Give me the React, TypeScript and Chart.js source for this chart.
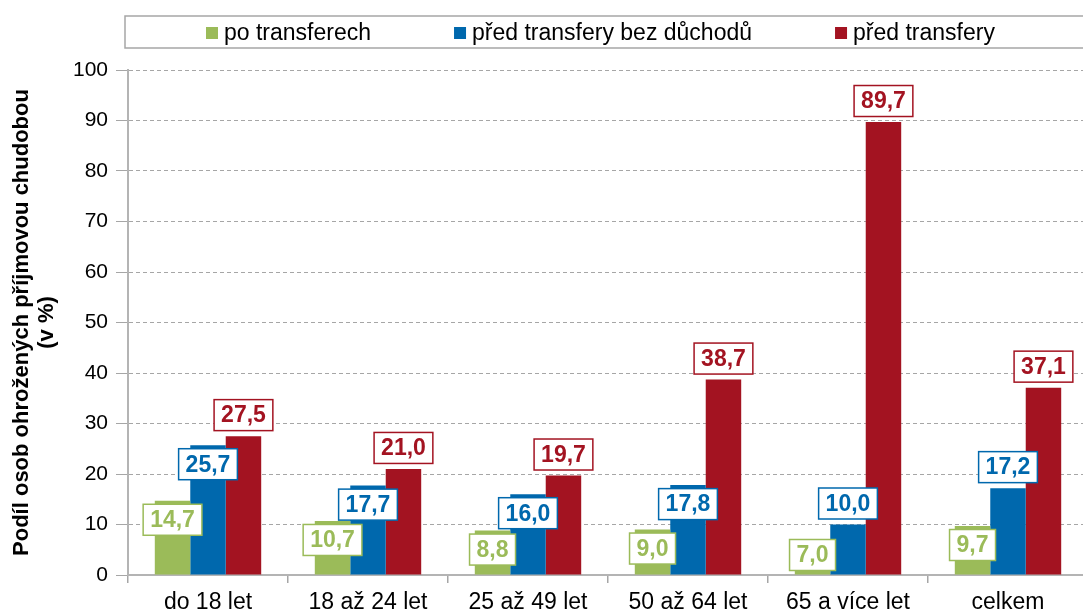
import React, { useEffect, useRef } from "react";
import { Chart, registerables } from "chart.js";

Chart.register(...registerables);

const categories = ["do 18 let", "18 až 24 let", "25 až 49 let", "50 až 64 let", "65 a více let", "celkem"];
const seriesNames = ["po transferech", "před transfery bez důchodů", "před transfery"];
const poTransferech = [14.7, 10.7, 8.8, 9.0, 7.0, 9.7];
const predTransferyBezDuchodu = [25.7, 17.7, 16.0, 17.8, 10.0, 17.2];
const predTransfery = [27.5, 21.0, 19.7, 38.7, 89.7, 37.1];
const yMin = 0;
const yMax = 100;
const yStep = 10;
const yTitle = ["Podíl osob ohrožených příjmovou chudobou", "(v %)"];

const COLORS = ["#9BBB59", "#0068AD", "#A31321"];
const FONT = "'Liberation Sans', Arial, Helvetica, sans-serif";

// label placement per series (style only)
const labelSide: string[][] = [
  ["below", "below", "below", "below", "below", "below"],
  ["below", "below", "below", "below", "above", "above"],
  ["above", "above", "above", "above", "above", "above"],
];

const fmt = (v: number) => v.toFixed(1).replace(".", ",");

const labelPlugin = {
  id: "boxLabels",
  afterDatasetsDraw(chart: any) {
    const ctx = chart.ctx;
    const base = chart.chartArea.bottom;
    ctx.save();
    ctx.font = `bold 23px ${FONT}`;
    ctx.textAlign = "center";
    ctx.textBaseline = "middle";
    chart.data.datasets.forEach((ds: any, di: number) => {
      const meta = chart.getDatasetMeta(di);
      meta.data.forEach((el: any, i: number) => {
        const txt = fmt(ds.data[i]);
        const w = ctx.measureText(txt).width + 14;
        const h = 31;
        let cy: number;
        if (labelSide[di][i] === "above") cy = el.y - 21;
        else cy = Math.min(el.y + 19, base - 20);
        const cx = el.x;
        ctx.fillStyle = "#ffffff";
        ctx.fillRect(cx - w / 2, cy - h / 2, w, h);
        ctx.lineWidth = 1.5;
        ctx.strokeStyle = COLORS[di];
        ctx.strokeRect(cx - w / 2, cy - h / 2, w, h);
        ctx.fillStyle = COLORS[di];
        ctx.fillText(txt, cx, cy + 1);
      });
    });
    ctx.restore();
  },
};

const legendPlugin = {
  id: "boxLegend",
  afterDraw(chart: any) {
    const ctx = chart.ctx;
    ctx.save();
    ctx.lineWidth = 1.5;
    ctx.strokeStyle = "#A6A6A6";
    ctx.strokeRect(125, 16, 1000, 32);
    ctx.font = `23px ${FONT}`;
    ctx.textBaseline = "middle";
    ctx.textAlign = "left";
    let x = 206;
    const cy = 33;
    chart.data.datasets.forEach((ds: any, di: number) => {
      ctx.fillStyle = COLORS[di];
      ctx.fillRect(x, cy - 6, 12, 12);
      x += 18;
      ctx.fillStyle = "#000000";
      ctx.fillText(ds.label, x, cy + 1);
      x += ctx.measureText(ds.label).width + 83;
    });
    ctx.restore();
  },
};

export default function App() {
  const ref = useRef<HTMLCanvasElement | null>(null);
  useEffect(() => {
    if (!ref.current) return;
    const seriesData = [poTransferech, predTransferyBezDuchodu, predTransfery];
    const chart = new Chart(ref.current, {
      type: "bar",
      data: {
        labels: categories,
        datasets: seriesData.map((d, i) => ({
          label: seriesNames[i],
          data: d,
          backgroundColor: COLORS[i],
          borderWidth: 0,
          categoryPercentage: 0.665,
          barPercentage: 1,
        })),
      },
      options: {
        animation: false,
        responsive: true,
        maintainAspectRatio: false,
        layout: { padding: { top: 70, left: 0, right: 0, bottom: 0 } },
        plugins: {
          legend: { display: false },
          tooltip: { enabled: false },
        },
        scales: {
          x: {
            grid: {
              display: true,
              drawOnChartArea: false,
              drawTicks: true,
              tickLength: 8,
              color: "#A6A6A6",
              lineWidth: 1.5,
              offset: true,
            },
            border: { display: true, color: "#B4B4B4", width: 2 },
            ticks: {
              color: "#000000",
              font: { family: FONT, size: 23 },
              padding: 6,
              maxRotation: 0,
              autoSkip: false,
            },
            afterFit: (s: any) => {
              s.height = 35;
            },
          },
          y: {
            min: yMin,
            max: yMax,
            ticks: {
              stepSize: yStep,
              color: "#000000",
              font: { family: FONT, size: 21 },
              padding: 8,
            },
            grid: {
              color: "#A6A6A6",
              lineWidth: 1,
              tickLength: 12,
              drawTicks: true,
            },
            border: { display: true, color: "#B4B4B4", width: 2, dash: [4, 3] },
            title: {
              display: true,
              text: yTitle,
              color: "#000000",
              font: { family: FONT, size: 22, weight: "bold", lineHeight: 1.15 },
              padding: { top: 9, bottom: 0 },
            },
            afterFit: (s: any) => {
              s.width = 128;
            },
          },
        },
      },
      plugins: [labelPlugin, legendPlugin],
    });
    return () => chart.destroy();
  }, []);
  return (
    <div style={{ position: "fixed", left: 0, top: 0, width: 1083, height: 610, overflow: "hidden", background: "#fff" }}>
      <div style={{ position: "relative", width: 1088, height: 610 }}>
        <canvas ref={ref} />
      </div>
    </div>
  );
}
